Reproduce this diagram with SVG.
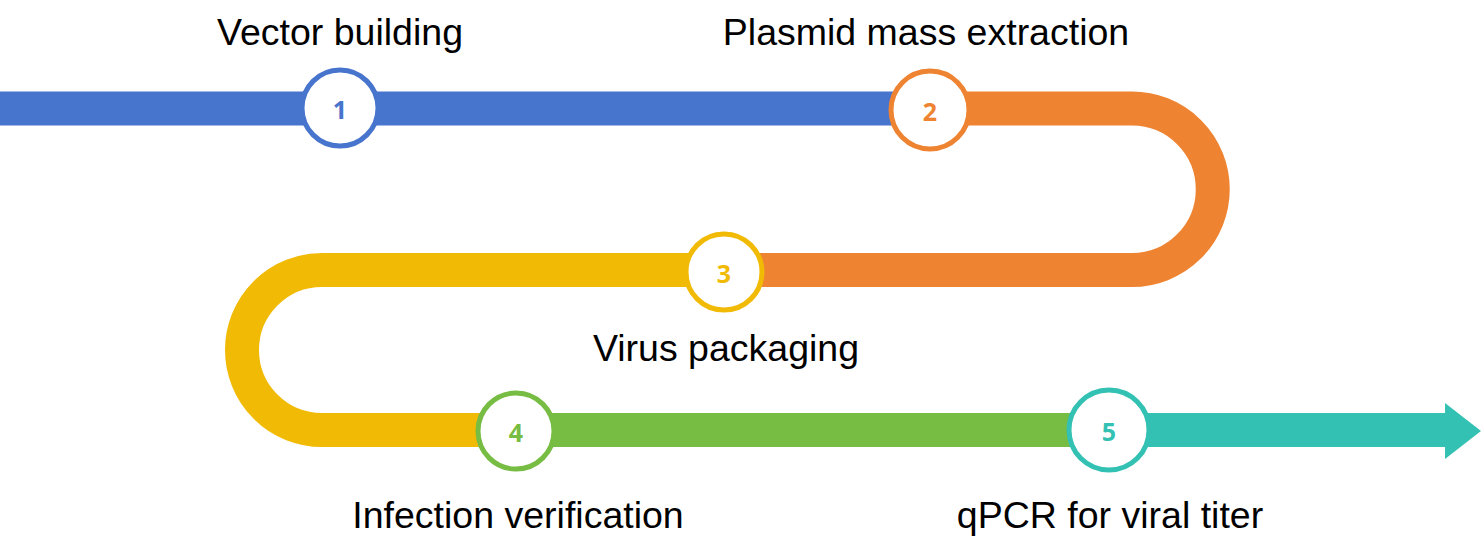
<svg xmlns="http://www.w3.org/2000/svg" width="1482" height="546" viewBox="0 0 1482 546">
<style>
.seg{fill:none;stroke-width:34;stroke-linecap:butt}
.node circle{fill:#fff;stroke-width:5}
.num{font-family:"Open Sans","Liberation Sans",sans-serif;font-weight:bold;font-size:25px;text-anchor:middle;dominant-baseline:central}
.lbl{font-family:"Liberation Sans",Arial,sans-serif;font-size:37.5px;fill:#000;text-anchor:middle}
</style>
<rect width="1482" height="546" fill="#fff"/>
<g id="connectors">
<path class="seg" stroke="#4774CC" d="M0 108.5H930"/>
<path class="seg" stroke="#EE8331" d="M930 108.5H1132A80.75 80.75 0 0 1 1132 270H724"/>
<path class="seg" stroke="#F1BA05" d="M724 270H322A80 80 0 0 0 322 430H516"/>
<path class="seg" stroke="#77BC43" d="M516 430H1109"/>
<path class="seg" stroke="#33C1B3" d="M1109 430H1446"/>
<polygon fill="#33C1B3" points="1445,403 1481,431 1445,459"/>
</g>
<g id="node1" class="node"><circle cx="340" cy="108" r="38" stroke="#4774CC"/><text class="num" x="340" y="109" fill="#4774CC">1</text><text class="lbl" x="340" y="45">Vector building</text></g>
<g id="node2" class="node"><circle cx="930" cy="110" r="39" stroke="#EE8331"/><text class="num" x="930" y="111" fill="#EE8331">2</text><text class="lbl" x="926" y="45">Plasmid mass extraction</text></g>
<g id="node3" class="node"><circle cx="724" cy="272" r="38" stroke="#F1BA05"/><text class="num" x="724" y="273" fill="#F1BA05">3</text><text class="lbl" x="726" y="361">Virus packaging</text></g>
<g id="node4" class="node"><circle cx="516" cy="431" r="38" stroke="#77BC43"/><text class="num" x="516" y="432" fill="#77BC43">4</text><text class="lbl" x="518" y="528">Infection verification</text></g>
<g id="node5" class="node"><circle cx="1109" cy="430" r="40" stroke="#33C1B3"/><text class="num" x="1109" y="431" fill="#33C1B3">5</text><text class="lbl" x="1110" y="528">qPCR for viral titer</text></g>
</svg>
